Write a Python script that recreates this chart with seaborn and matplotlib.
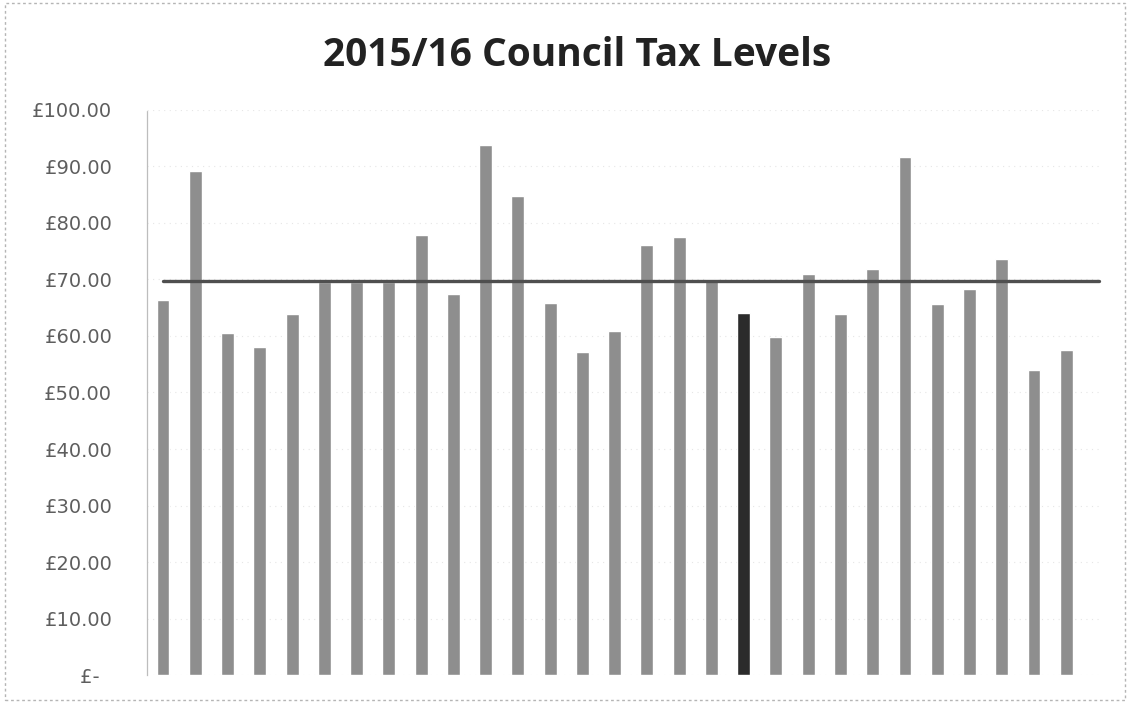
import matplotlib
matplotlib.use("Agg")
import matplotlib.pyplot as plt
import seaborn as sns
import pandas as pd
from matplotlib.patches import Rectangle
from matplotlib.ticker import FuncFormatter

# ---- data ----
categories = [f"Area {i}" for i in range(1, 30)]
values = [66.4, 89.1, 60.5, 58.1, 63.9, 69.5, 69.5, 69.5, 77.9, 67.4,
          93.8, 84.8, 65.9, 57.2, 60.8, 76.0, 77.5, 70.0, 64.1, 59.8,
          70.9, 63.8, 71.8, 91.6, 65.6, 68.3, 73.7, 54.0, 57.5]
highlight = "Area 19"
average = 69.7
y_ticks = [0, 10, 20, 30, 40, 50, 60, 70, 80, 90, 100]
title = "2015/16 Council Tax Levels"

sns.set_theme(style="white")
plt.rcParams['font.family'] = ['DejaVu Sans']

df = pd.DataFrame({"area": categories, "tax": values})
palette = {c: ("#2b2b2b" if c == highlight else "#8e8e8e") for c in categories}

fig = plt.figure(figsize=(11.3, 7.04), dpi=100)
ax = fig.add_axes([0.130, 0.041, 0.845, 0.803])

sns.barplot(data=df, x="area", y="tax", hue="area", palette=palette,
            legend=False, width=0.4, ax=ax, saturation=1)

n = len(categories)
ax.plot([0, n], [average, average], color="#4f4f4f", lw=2.4, zorder=3)

ax.set_xlim(-0.5, n + 0.1)
ax.set_ylim(0, 100)
ax.set_yticks(y_ticks)
ax.yaxis.set_major_formatter(FuncFormatter(
    lambda v, p: "£-  " if v == 0 else f"£{v:.2f}"))
ax.tick_params(axis="y", length=0, pad=25, labelsize=14, labelcolor="#5e5e5e")
ax.set_xticks([])
ax.set_xlabel("")
ax.set_ylabel("")
ax.grid(axis="y", color="#e6e6e6", lw=0.8, ls=(0, (1, 4)))
ax.set_axisbelow(True)
for s in ["top", "right", "bottom"]:
    ax.spines[s].set_visible(False)
ax.spines["left"].set_color("#bdbdbd")
ax.spines["left"].set_linestyle((0, (1, 1)))
ax.spines["left"].set_linewidth(0.9)

fig.text(0.511, 0.921, title, ha="center", va="center",
         fontsize=28, fontweight="bold", color="#222222", family="Open Sans")

fig.patches.append(Rectangle((0.004, 0.006), 0.992, 0.99, transform=fig.transFigure,
                             fill=False, ec="#b5b5b5", lw=1, ls=(0, (2, 2))))

fig.savefig("out.png", dpi=100)
